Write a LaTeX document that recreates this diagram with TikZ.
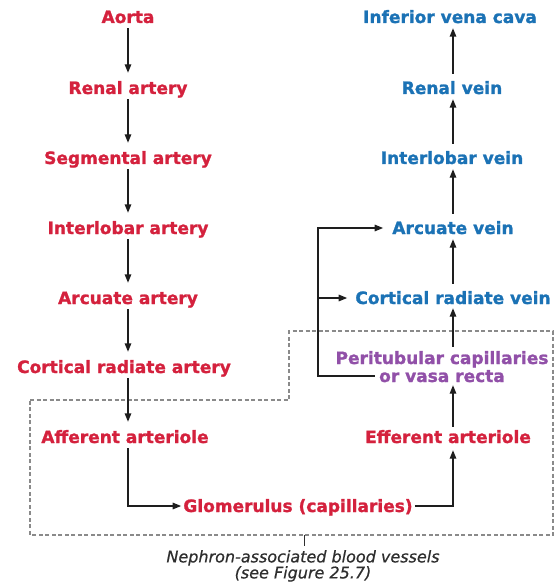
\documentclass[tikz,border=0pt]{standalone}
\usepackage{fontspec}
\setmainfont{DejaVu Sans}
\newfontfamily\heavyfont[FakeBold=1.3]{DejaVu Sans Bold}
\newfontfamily\captfont[FakeBold=0.6]{DejaVu Sans Oblique}
\usetikzlibrary{arrows.meta}
\definecolor{artred}{HTML}{D4213D}
\definecolor{veinblue}{HTML}{1B72B5}
\definecolor{capviolet}{HTML}{9150A8}
\definecolor{linec}{HTML}{1E1E1E}
\definecolor{boxgray}{HTML}{8A8A8A}
\definecolor{captgray}{HTML}{2E2E2E}
\begin{document}
\begin{tikzpicture}[x=1pt,y=-1pt,
  lbl/.style={inner sep=0pt, text height=12pt, text depth=0pt,
    font=\fontsize{17}{18}\selectfont\heavyfont},
  art/.style={lbl, text=artred},
  ven/.style={lbl, text=veinblue},
  capl/.style={lbl, text=capviolet},
  flow/.style={draw=linec, line width=1.4pt, -{Triangle[length=8.5pt,width=6.5pt]}},
  flowdown/.style={flow, shorten <=5pt, shorten >=9pt},
  flowup/.style={flow, shorten <=8pt, shorten >=5pt},
  nephronbox/.style={draw=boxgray, line width=1.1pt, dash pattern=on 4pt off 2.5pt},
  captxt/.style={inner sep=0pt, align=center, text=captgray,
    font=\fontsize{16}{16}\selectfont\captfont}]
\path[use as bounding box] (0,0) rectangle (555,588);

% dashed region (nephron-associated vessels)
\draw[nephronbox] (30,400) -- (289,400) -- (289,331) -- (553,331) -- (553,535) -- (30,535) -- cycle;

% arterial side
\node[art] (aorta) at (128,17) {Aorta};
\node[art] (renA) at (128,88) {Renal artery};
\node[art] (segA) at (128,158) {Segmental artery};
\node[art] (intA) at (128,228) {Interlobar artery};
\node[art] (arcA) at (128,298) {Arcuate artery};
\node[art] (corA) at (124,367) {Cortical radiate artery};
\node[art] (aff) at (125,437) {Afferent arteriole};
\node[art] (glom) at (298,506) {Glomerulus (capillaries)};
\node[art] (eff) at (448,437) {Efferent arteriole};

% capillaries
\node[capl] (per1) at (442,358) {Peritubular capillaries};
\node[capl] (per2) at (442,376) {or vasa recta};

% venous side
\node[ven] (corV) at (453,298) {Cortical radiate vein};
\node[ven] (arcV) at (453,228) {Arcuate vein};
\node[ven] (intV) at (452,158) {Interlobar vein};
\node[ven] (renV) at (452,88) {Renal vein};
\node[ven] (ivc) at (450,17) {Inferior vena cava};

% caption
\node[captxt, anchor=north] (capt) at (303,550) {Nephron-associated blood vessels\\(see Figure 25.7)};
\coordinate (tk) at (304,535);
\draw[captgray, line width=0.9pt, shorten >=4pt] (tk) -- (tk |- capt.north);

% column axes
\coordinate (ax) at (128,0);
\coordinate (rx) at (453,0);
\coordinate (lx) at (318,0);

% arterial arrows
\draw[flowdown] (aorta) -- (renA);
\draw[flowdown] (renA) -- (segA);
\draw[flowdown] (segA) -- (intA);
\draw[flowdown] (intA) -- (arcA);
\draw[flowdown] (arcA.south) -- (arcA.south |- corA.north);
\draw[flowdown] (ax |- corA.south) -- (ax |- aff.north);
\draw[flow, shorten <=5pt, shorten >=2pt] (ax |- aff.south) |- (glom.west);
\draw[flow, shorten <=2pt, shorten >=7pt] (glom.east) -| (rx |- eff.south);

% capillary / venous arrows
\draw[flow, shorten <=4pt, shorten >=3pt] (rx |- eff.north) -- (rx |- per2.south);
\draw[flow, shorten <=5pt, shorten >=4pt] (rx |- per1.north) -- (rx |- corV.south);
\draw[flowup] (rx |- corV.north) -- (rx |- arcV.south);
\draw[flowup] (rx |- arcV.north) -- (rx |- intV.south);
\draw[flowup] (rx |- intV.north) -- (rx |- renV.south);
\draw[flowup] (rx |- renV.north) -- (rx |- ivc.south);

% loop from capillaries to veins
\draw[flow, shorten <=4pt, shorten >=9pt] (per2.west) -| (lx |- arcV.west) -- (arcV.west);
\draw[flow, shorten >=8pt] (lx |- corV.west) -- (corV.west);
\end{tikzpicture}
\end{document}
